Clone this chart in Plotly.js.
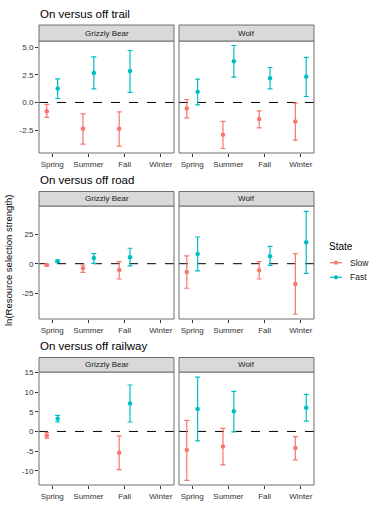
<!DOCTYPE html>
<html>
<head>
<meta charset="utf-8">
<script src="https://cdn.plot.ly/plotly-3.0.1.min.js"></script>
<style>html,body{margin:0;padding:0;background:#fff;}#chart{width:380px;height:507px;}</style>
</head>
<body>
<div id="chart"></div>
<script>
// ---- data: [estimate, lower, upper] per season (null = no estimate) ----
const seasons = ['Spring', 'Summer', 'Fall', 'Winter'];
const animals = ['Grizzly Bear', 'Wolf'];
const states = ['Slow', 'Fast'];
const panelTitles = ['On versus off trail', 'On versus off road', 'On versus off railway'];

const trailBearSlow = [[-0.79, -1.36, -0.18], [-2.39, -3.78, -1.03], [-2.39, -3.96, -0.85], null];
const trailBearFast = [[1.27, 0.36, 2.14], [2.68, 1.23, 4.13], [2.84, 0.91, 4.71], null];
const trailWolfSlow = [[-0.54, -1.39, 0.27], [-2.93, -4.17, -1.72], [-1.51, -2.30, -0.76], [-1.72, -3.41, -0.06]];
const trailWolfFast = [[0.96, -0.22, 2.11], [3.74, 2.29, 5.16], [2.20, 1.23, 3.17], [2.32, 0.54, 4.08]];

const roadBearSlow = [[-1.2, -2.1, -0.3], [-3.9, -7.3, -1.1], [-5.3, -12.9, 1.7], null];
const roadBearFast = [[2.0, 1.0, 3.0], [4.8, 0.3, 8.4], [5.4, -1.9, 13.0], null];
const roadWolfSlow = [[-7.0, -20.7, 6.5], null, [-5.6, -12.9, 1.7], [-17.1, -42.6, 8.4]];
const roadWolfFast = [[8.2, -6.1, 22.5], null, [6.2, -1.4, 14.6], [18.0, -8.1, 44.1]];

const railBearSlow = [[-1.0, -1.7, -0.25], null, [-5.4, -9.7, -1.1], null];
const railBearFast = [[3.2, 2.4, 4.1], null, [7.1, 2.4, 11.8], null];
const railWolfSlow = [[-4.7, -12.4, 2.8], [-3.8, -8.5, 0.8], null, [-4.2, -7.2, -1.3]];
const railWolfFast = [[5.7, -2.4, 13.8], [5.1, -0.1, 10.2], null, [6.0, 2.6, 9.4]];

const yTicks = [[-2.5, 0, 2.5, 5], [-25, 0, 25], [-10, -5, 0, 5, 10, 15]];
const yTickText = [['-2.5', '0.0', '2.5', '5.0'], ['-25', '0', '25'], ['-10', '-5', '0', '5', '10', '15']];
const yRanges = [[-4.58, 5.57], [-46.6, 48.6], [-13.6, 15.1]];

const panelData = [
  [[trailBearSlow, trailBearFast], [trailWolfSlow, trailWolfFast]],
  [[roadBearSlow, roadBearFast], [roadWolfSlow, roadWolfFast]],
  [[railBearSlow, railBearFast], [railWolfSlow, railWolfFast]]
];

// ---- layout geometry (pixels) ----
const W = 380, H = 507;
const px = x => x / W;
const py = y => 1 - y / H;
const cols = [[39, 174], [179, 314]];
const rows = [
  {top: 41, bottom: 153, strip: 25, title: 14},
  {top: 206, bottom: 319, strip: 191.5, title: 180},
  {top: 372, bottom: 485, strip: 357.5, title: 345.5}
];
const colors = {Slow: '#F8766D', Fast: '#00BFC4'};
const dodge = {Slow: -0.15, Fast: 0.15};

const traces = [];
const layout = {
  width: W, height: H,
  margin: {l: 0, r: 0, t: 0, b: 0},
  paper_bgcolor: '#fff', plot_bgcolor: '#fff',
  font: {family: 'Liberation Sans, Arial, sans-serif', color: '#4d4d4d'},
  showlegend: false,
  shapes: [], annotations: []
};

let k = 0;
rows.forEach((row, r) => {
  layout.annotations.push({
    text: panelTitles[r], xref: 'paper', yref: 'paper',
    x: px(38), y: py(row.title), xanchor: 'left', yanchor: 'middle',
    showarrow: false, font: {size: 11.5, color: '#000'}
  });
  cols.forEach((col, c) => {
    k += 1;
    const xa = 'xaxis' + (k === 1 ? '' : k), ya = 'yaxis' + (k === 1 ? '' : k);
    const xr = 'x' + (k === 1 ? '' : k), yr = 'y' + (k === 1 ? '' : k);
    layout[xa] = {
      domain: [px(col[0]), px(col[1])], anchor: yr,
      range: [0.635, 4.365], tickvals: [1, 2, 3, 4], ticktext: seasons,
      ticks: 'outside', ticklen: 3, tickwidth: 1, tickcolor: '#333',
      showgrid: false, zeroline: false, showline: false,
      tickfont: {size: 8, color: '#333'}, fixedrange: true
    };
    layout[ya] = {
      domain: [py(row.bottom), py(row.top)], anchor: xr,
      range: yRanges[r], tickvals: yTicks[r], ticktext: yTickText[r],
      ticks: c === 0 ? 'outside' : '', ticklen: 3, tickwidth: 1, tickcolor: '#333',
      showticklabels: c === 0,
      showgrid: false, zeroline: false, showline: false,
      tickfont: {size: 8, color: '#333'}, fixedrange: true
    };
    layout.shapes.push({type: 'line', xref: xr + ' domain', yref: yr, x0: 0, x1: 1, y0: 0, y1: 0,
      line: {color: '#000', width: 1, dash: 'dash'}, layer: 'below'});
    layout.shapes.push({type: 'rect', xref: xr + ' domain', yref: yr + ' domain', x0: 0, x1: 1, y0: 0, y1: 1,
      line: {color: '#6f6f6f', width: 1}});
    layout.shapes.push({type: 'rect', xref: 'paper', yref: 'paper',
      x0: px(col[0]), x1: px(col[1]), y0: py(row.top), y1: py(row.strip),
      fillcolor: '#d9d9d9', line: {color: '#6f6f6f', width: 1}});
    layout.annotations.push({
      text: animals[c], xref: 'paper', yref: 'paper',
      x: px((col[0] + col[1]) / 2), y: py((row.top + row.strip) / 2),
      xanchor: 'center', yanchor: 'middle', showarrow: false,
      font: {size: 8, color: '#1a1a1a'}
    });
    states.forEach((st, s) => {
      const d = panelData[r][c][s];
      const xs = [], ys = [], up = [], dn = [];
      d.forEach((v, i) => {
        if (!v) return;
        xs.push(i + 1 + dodge[st]);
        ys.push(v[0]);
        up.push(v[2] - v[0]);
        dn.push(v[0] - v[1]);
      });
      traces.push({
        type: 'scatter', mode: 'markers', x: xs, y: ys, xaxis: xr, yaxis: yr,
        name: st, showlegend: false,
        marker: {color: colors[st], size: 4.5},
        error_y: {type: 'data', symmetric: false, array: up, arrayminus: dn,
          color: colors[st], thickness: 1.2, width: 2.5},
        hoverinfo: 'skip'
      });
    });
  });
});

// legend (drawn as a key)
layout.annotations.push({
  text: 'State', xref: 'paper', yref: 'paper', x: px(327), y: py(246),
  xanchor: 'left', yanchor: 'middle', showarrow: false, font: {size: 10, color: '#000'}
});
const legendY = {Slow: 262.7, Fast: 277.3};
states.forEach(st => {
  const y = legendY[st];
  layout.shapes.push({type: 'line', xref: 'paper', yref: 'paper',
    x0: px(330), x1: px(342), y0: py(y), y1: py(y), line: {color: colors[st], width: 1.2}});
  layout.shapes.push({type: 'circle', xref: 'paper', yref: 'paper',
    x0: px(333.9), x1: px(338.1), y0: py(y + 2.1), y1: py(y - 2.1),
    fillcolor: colors[st], line: {width: 0}});
  layout.annotations.push({
    text: st, xref: 'paper', yref: 'paper', x: px(348), y: py(y),
    xanchor: 'left', yanchor: 'middle', showarrow: false, font: {size: 8.5, color: '#1a1a1a'}
  });
});

layout.annotations.push({
  text: 'ln(Resource selection strength)', xref: 'paper', yref: 'paper',
  x: px(8), y: py(261), xanchor: 'center', yanchor: 'middle', textangle: -90,
  showarrow: false, font: {size: 9.5, color: '#000'}
});

Plotly.newPlot('chart', traces, layout, {staticPlot: true, displayModeBar: false});
</script>
</body>
</html>
